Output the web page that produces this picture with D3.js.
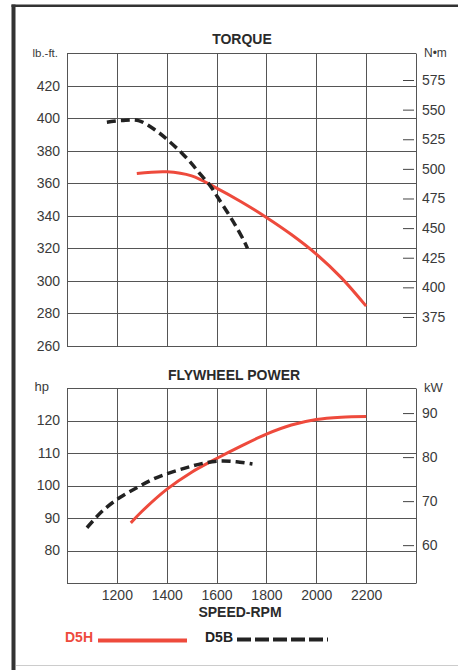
<!DOCTYPE html>
<html>
<head>
<meta charset="utf-8">
<script src="https://cdn.jsdelivr.net/npm/d3@7"></script>
<style>
  body { margin: 0; background: #fff; }
  text { font-family: "Liberation Sans", Arial, sans-serif; fill: #3a3a3a; }
  .title { font-weight: bold; font-size: 14px; fill: #2a2a2a; }
  .tick text { font-size: 14px; }
</style>
</head>
<body>
<div id="chart"></div>
<script>
// ---- data ----
const rpmTicks = [1200, 1400, 1600, 1800, 2000, 2200];
const torqueTicks = [260, 280, 300, 320, 340, 360, 380, 400, 420];
const nmTicks = [375, 400, 425, 450, 475, 500, 525, 550, 575];
const hpTicks = [80, 90, 100, 110, 120];
const kwTicks = [60, 70, 80, 90];

// torque, lb.-ft.
const d5hTorqueRpm = [1280, 1400, 1500, 1600, 1700, 1800, 1900, 2000, 2100, 2200];
const d5hTorque    = [366, 367, 364.5, 357, 348.5, 339, 328.5, 316.5, 302, 284.5];
const d5bTorqueRpm = [1160, 1220, 1290, 1360, 1412, 1464, 1500, 1532, 1572, 1604, 1644, 1680, 1712, 1724];
const d5bTorque    = [397.5, 398.5, 398.3, 392, 385.5, 378, 372, 366, 359, 351.5, 342, 333, 324, 320];

// flywheel power, hp
const d5hPowerRpm = [1256, 1300, 1400, 1500, 1600, 1700, 1800, 1900, 2000, 2100, 2200];
const d5hPower    = [88.5, 92, 98.8, 104.1, 108.3, 112.2, 115.8, 118.6, 120.3, 121, 121.2];
const d5bPowerRpm = [1080, 1144, 1212, 1280, 1344, 1412, 1480, 1544, 1612, 1680, 1744];
const d5bPower    = [87, 92.3, 96.3, 99.3, 101.9, 103.9, 105.5, 106.8, 107.5, 107.3, 106.6];

const RED = "#ee4a3c";
const DARK = "#222";
const GRID = "#555";

const width = 458, height = 670;
const svg = d3.select("#chart").append("svg")
    .attr("width", width)
    .attr("height", height);

// frame of the printed page
svg.append("rect").attr("x", 11.5).attr("y", 4.5).attr("width", 4).attr("height", height).attr("fill", "#333");
svg.append("rect").attr("x", 11.5).attr("y", 4.5).attr("width", width).attr("height", 2.5).attr("fill", "#333");
svg.append("line").attr("x1", 16).attr("x2", width).attr("y1", 665.5).attr("y2", 665.5)
    .attr("stroke", "#ccc").attr("stroke-width", 1);

// scales
const x = d3.scaleLinear().domain([1000, 2400]).range([67, 416]);
const yT = d3.scaleLinear().domain([260, 440]).range([346, 53]);
const yNm = d3.scaleLinear().domain([350.5, 597.8]).range([346, 53]);
const yP = d3.scaleLinear().domain([70, 130]).range([583, 388]);
const yKw = d3.scaleLinear().domain([51.4, 95.7]).range([583, 388]);

function panel(yScale, leftTicks, rightScale, rightTicks) {
    const g = svg.append("g");
    const [x0, x1] = x.range();
    const [yb, yt] = yScale.range();

    // horizontal grid
    g.selectAll("line.h")
        .data(leftTicks.concat(yScale.domain()))
        .join("line")
        .attr("x1", x0).attr("x2", x1)
        .attr("y1", d => Math.round(yScale(d)) + 0.5)
        .attr("y2", d => Math.round(yScale(d)) + 0.5)
        .attr("stroke", GRID).attr("stroke-width", 1);

    // vertical grid
    g.selectAll("line.v")
        .data(rpmTicks.concat(x.domain()))
        .join("line")
        .attr("y1", yb + 0.5).attr("y2", yt + 0.5)
        .attr("x1", d => Math.round(x(d)) + 0.5)
        .attr("x2", d => Math.round(x(d)) + 0.5)
        .attr("stroke", GRID).attr("stroke-width", 1);

    // left labels
    g.append("g")
        .attr("transform", `translate(${x0},0)`)
        .call(d3.axisLeft(yScale).tickValues(leftTicks).tickSize(0).tickPadding(7))
        .call(a => a.select(".domain").remove());

    // right metric scale: short ticks inside the box, labels outside
    const r = g.append("g").attr("transform", `translate(${x1},0)`);
    r.call(d3.axisRight(rightScale).tickValues(rightTicks).tickSize(0).tickPadding(6))
        .call(a => a.select(".domain").remove());
    r.selectAll(".tick").append("line")
        .attr("x1", -13).attr("x2", -2)
        .attr("stroke", "#444").attr("stroke-width", 1);

    g.selectAll(".tick text").attr("fill", "#3a3a3a");
    return g;
}

panel(yT, torqueTicks, yNm, nmTicks);
panel(yP, hpTicks, yKw, kwTicks);

// x labels under the power chart
svg.append("g")
    .attr("transform", `translate(0,${yP.range()[0]})`)
    .call(d3.axisBottom(x).tickValues(rpmTicks).tickSize(0).tickPadding(7).tickFormat(d3.format("d")))
    .call(a => a.select(".domain").remove());

// titles and units
svg.append("text").attr("class", "title").attr("x", 242).attr("y", 44).attr("text-anchor", "middle").text("TORQUE");
svg.append("text").attr("class", "title").attr("x", 234).attr("y", 380).attr("text-anchor", "middle").text("FLYWHEEL POWER");
svg.append("text").attr("class", "title").attr("x", 240).attr("y", 617).attr("text-anchor", "middle").text("SPEED-RPM");
svg.append("text").attr("x", 58).attr("y", 57).attr("text-anchor", "end").attr("font-size", 11.5).text("lb.-ft.");
svg.append("text").attr("x", 424).attr("y", 57).attr("font-size", 12).text("N\u2022m");
svg.append("text").attr("x", 49).attr("y", 391).attr("text-anchor", "end").attr("font-size", 13).text("hp");
svg.append("text").attr("x", 424).attr("y", 392).attr("font-size", 13).text("kW");

// curves
function curve(rpm, vals, yScale, style) {
    const pts = rpm.map((r, i) => [r, vals[i]]);
    const line = d3.line()
        .x(d => x(d[0]))
        .y(d => yScale(d[1]))
        .curve(d3.curveCatmullRom.alpha(0.5));
    svg.append("path")
        .datum(pts)
        .attr("d", line)
        .attr("fill", "none")
        .attr("stroke", style.color)
        .attr("stroke-width", style.width)
        .attr("stroke-dasharray", style.dash || null);
}

const d5hStyle = { color: RED, width: 3 };
const d5bStyle = { color: DARK, width: 3.5, dash: "9,5" };

curve(d5hTorqueRpm, d5hTorque, yT, d5hStyle);
curve(d5bTorqueRpm, d5bTorque, yT, d5bStyle);
curve(d5hPowerRpm, d5hPower, yP, d5hStyle);
curve(d5bPowerRpm, d5bPower, yP, d5bStyle);

// legend
const legend = svg.append("g");
legend.append("text").attr("x", 65).attr("y", 642).attr("font-weight", "bold").attr("font-size", 14)
    .style("fill", RED).text("D5H");
legend.append("line").attr("x1", 98).attr("x2", 187).attr("y1", 640.5).attr("y2", 640.5)
    .attr("stroke", RED).attr("stroke-width", 4);
legend.append("text").attr("x", 205).attr("y", 642).attr("font-weight", "bold").attr("font-size", 14)
    .style("fill", DARK).text("D5B");
legend.append("line").attr("x1", 237).attr("x2", 328).attr("y1", 639.5).attr("y2", 639.5)
    .attr("stroke", DARK).attr("stroke-width", 4).attr("stroke-dasharray", "14,4");
</script>
</body>
</html>
